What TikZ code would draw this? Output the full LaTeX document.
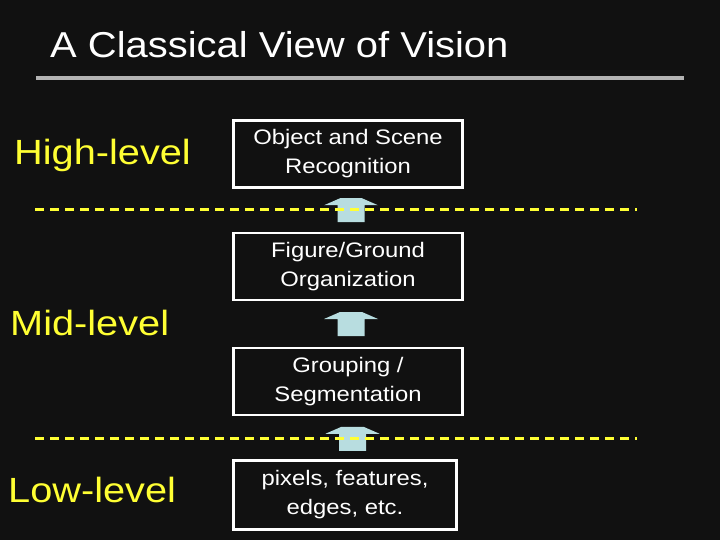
\documentclass[tikz,border=0pt]{standalone}
\usepackage{fontspec}
\setmainfont{Liberation Sans}
\newfontfamily\titlefont[FakeStretch=1.11]{Liberation Sans}
\newfontfamily\widefont[FakeStretch=1.135]{Liberation Sans}
\usetikzlibrary{calc}
\definecolor{bg}{HTML}{111111}
\definecolor{lvl}{HTML}{FFFF33}
\definecolor{arr}{HTML}{B8DDE0}
\definecolor{rule}{HTML}{B4B4B4}
\begin{document}
\begin{tikzpicture}[x=1pt,y=-1pt,
  stagebox/.style={draw=white,line width=2.6pt,fill=bg,text=white,
    inner sep=0pt,align=center,font=\widefont\fontsize{21}{29}\selectfont},
  levellabel/.style={anchor=base west,text=lvl,inner sep=0pt,
    font=\widefont\fontsize{35}{40}\selectfont},
  divider/.style={draw=lvl,line width=3pt,dash pattern=on 9pt off 6pt},
  blockarrow/.pic={\fill[arr] (-13.5,12) -- (-13.5,-5) -- (-27,-5) -- (-11,-12)
     -- (11,-12) -- (27,-5) -- (13.5,-5) -- (13.5,12) -- cycle;}]
\fill[bg] (0,0) rectangle (720,540);
\useasboundingbox (0,0) rectangle (720,540);
\node[anchor=base west,text=white,inner sep=0pt,font=\titlefont\fontsize{36}{40}\selectfont]
  (title) at (50,58) {A Classical View of Vision};
\coordinate (rl) at (36,78);
\coordinate (rr) at (684,78);
\draw[rule,line width=4pt] (rl) -- (rr);

\node[levellabel] (high) at (14,165) {High-level};
\node[levellabel] (mid) at (10,335) {Mid-level};
\node[levellabel] (low) at (8,502) {Low-level};

\node[stagebox,minimum width=229pt,minimum height=67pt] (b1) at (348,154)
  {Object and Scene\\Recognition};
\node[stagebox,minimum width=229pt,minimum height=67pt] (b2) at (348,266.5)
  {Figure/Ground\\Organization};
\node[stagebox,minimum width=229pt,minimum height=67pt] (b3) at (348,381.5)
  {Grouping /\\Segmentation};
\node[stagebox,minimum width=223pt,minimum height=69pt] (b4) at (345,495)
  {pixels, features,\\edges, etc.};

\coordinate (a1) at ($(b1.south)!0.5!(b2.north)$);
\coordinate (a2) at ($(b2.south)!0.5!(b3.north)$);
\coordinate (a3) at ($(b3.south)!0.5!(b4.north)$);
\pic at ([xshift=3pt]a1) {blockarrow};
\pic at ([xshift=3pt]a2) {blockarrow};
\pic at ([xshift=6pt,yshift=-1pt]a3) {blockarrow};

\coordinate (d1l) at (35,210);
\coordinate (d1r) at (637,210);
\coordinate (d2l) at (35,438);
\coordinate (d2r) at (637,438);
\draw[divider] (d1l) -- (d1r);
\draw[divider] (d2l) -- (d2r);
\end{tikzpicture}
\end{document}
